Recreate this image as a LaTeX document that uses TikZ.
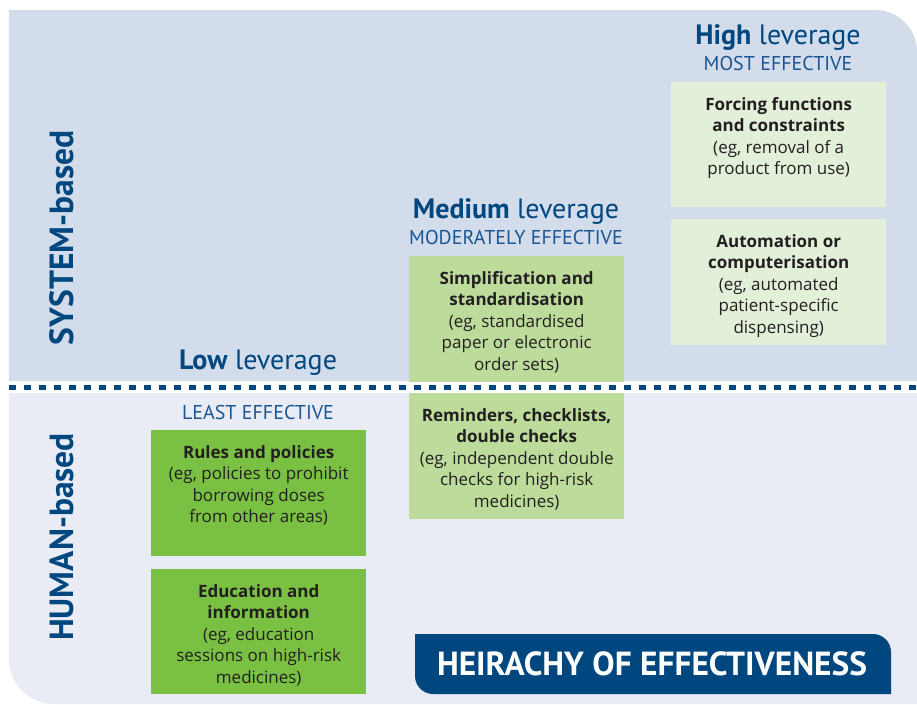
\documentclass[tikz,border=0pt]{standalone}
\usepackage{fontspec}
\setmainfont{PT Sans}
\newfontfamily\boxfont{Open Sans}
\newcommand{\hd}[1]{{\bfseries #1}}
\definecolor{topbg}{HTML}{D2DCEA}
\definecolor{botbg}{HTML}{E9ECF5}
\definecolor{navy}{HTML}{00467F}
\definecolor{headblue}{HTML}{1B5591}
\definecolor{palegreen}{HTML}{E2EFD9}
\definecolor{midgreen}{HTML}{BDDC9C}
\definecolor{brightgreen}{HTML}{7AC143}
\definecolor{boxink}{HTML}{231F20}
\tikzset{
  box/.style={anchor=north west, inner sep=0pt, draw=none, minimum width=215pt},
  btext/.style={anchor=north, align=center, inner sep=0pt, text=boxink,
    font=\boxfont\fontsize{17}{21.5}\selectfont},
  lev/.style={anchor=base, inner sep=0pt, text=navy, font=\fontsize{28}{28}\selectfont},
  eff/.style={anchor=center, inner sep=0pt, text=headblue, font=\fontsize{20}{20}\selectfont},
  side/.style={rotate=90, inner sep=0pt, text=navy, font=\bfseries\fontsize{33.5}{33.5}\selectfont},
  dashline/.style={navy, line width=5pt, dash pattern=on 7pt off 8pt}
}
\begin{document}
\begin{tikzpicture}[x=1pt,y=-1pt]
\useasboundingbox (0,0) rectangle (917,704);
\fill[white] (0,0) rectangle (917,704);
% panels
\fill[topbg] (9,10) -- (875,10) .. controls (898.2,10) and (917,28.8) .. (917,52) -- (917,381) -- (9,381) -- cycle;
\fill[botbg] (9,393) -- (917,393) -- (917,704) -- (54,704) .. controls (29.1,704) and (9,683.9) .. (9,659) -- cycle;
\draw[dashline] (9,387) -- (917,387);
% side labels
\node[side] (system) at (62,238) {SYSTEM-based};
\node[side] (human) at (62,537) {HUMAN-based};
% headers
\node[lev] (high) at (778,44) {\textbf{High} leverage};
\node[eff] (most) at (778,63) {MOST EFFECTIVE};
\node[lev] (medium) at (516,218) {\textbf{Medium} leverage};
\node[eff] (moderately) at (516,237) {MODERATELY EFFECTIVE};
\node[lev] (low) at (258,369) {\textbf{Low} leverage};
\node[eff] (least) at (258,412) {LEAST EFFECTIVE};
% boxes
\node[box, fill=palegreen, minimum height=125pt] (forcing) at (671,82) {};
\node[btext] (forcingtext) at ([yshift=-15pt]forcing.north) {\hd{Forcing functions}\\\hd{and constraints}\\(eg, removal of a\\product from use)};
\node[box, fill=palegreen, minimum height=126pt] (automation) at (671,219) {};
\node[btext] (automationtext) at ([yshift=-15pt]automation.north) {\hd{Automation or}\\\hd{computerisation}\\(eg, automated\\patient-specific\\dispensing)};
\node[box, fill=midgreen, minimum height=126pt] (simpl) at (409,256) {};
\node[btext] (simpltext) at ([yshift=-15pt]simpl.north) {\hd{Simplification and}\\\hd{standardisation}\\(eg, standardised\\paper or electronic\\order sets)};
\node[box, fill=midgreen, minimum height=126pt] (remind) at (409,393) {};
\node[btext] (remindtext) at ([yshift=-15pt]remind.north) {\hd{Reminders, checklists,}\\\hd{double checks}\\(eg, independent double\\checks for high-risk\\medicines)};
\node[box, fill=brightgreen, minimum height=126pt] (rules) at (151,430) {};
\node[btext] (rulestext) at ([yshift=-15pt]rules.north) {\hd{Rules and policies}\\(eg, policies to prohibit\\borrowing doses\\from other areas)};
\node[box, fill=brightgreen, minimum height=125pt] (educ) at (151,569) {};
\node[btext] (eductext) at ([yshift=-15pt]educ.north) {\hd{Education and}\\\hd{information}\\(eg, education\\sessions on high-risk\\medicines)};
% banner
\fill[navy] (415,634) -- (873,634) .. controls (882.9,634) and (891,642.1) .. (891,652) -- (891,694) -- (433,694) .. controls (423.1,694) and (415,685.9) .. (415,676) -- cycle;
\node[inner sep=0pt, text=white, font=\bfseries\fontsize{33.4}{33.4}\selectfont] (banner) at (652,664) {HEIRACHY OF EFFECTIVENESS};
\end{tikzpicture}
\end{document}
